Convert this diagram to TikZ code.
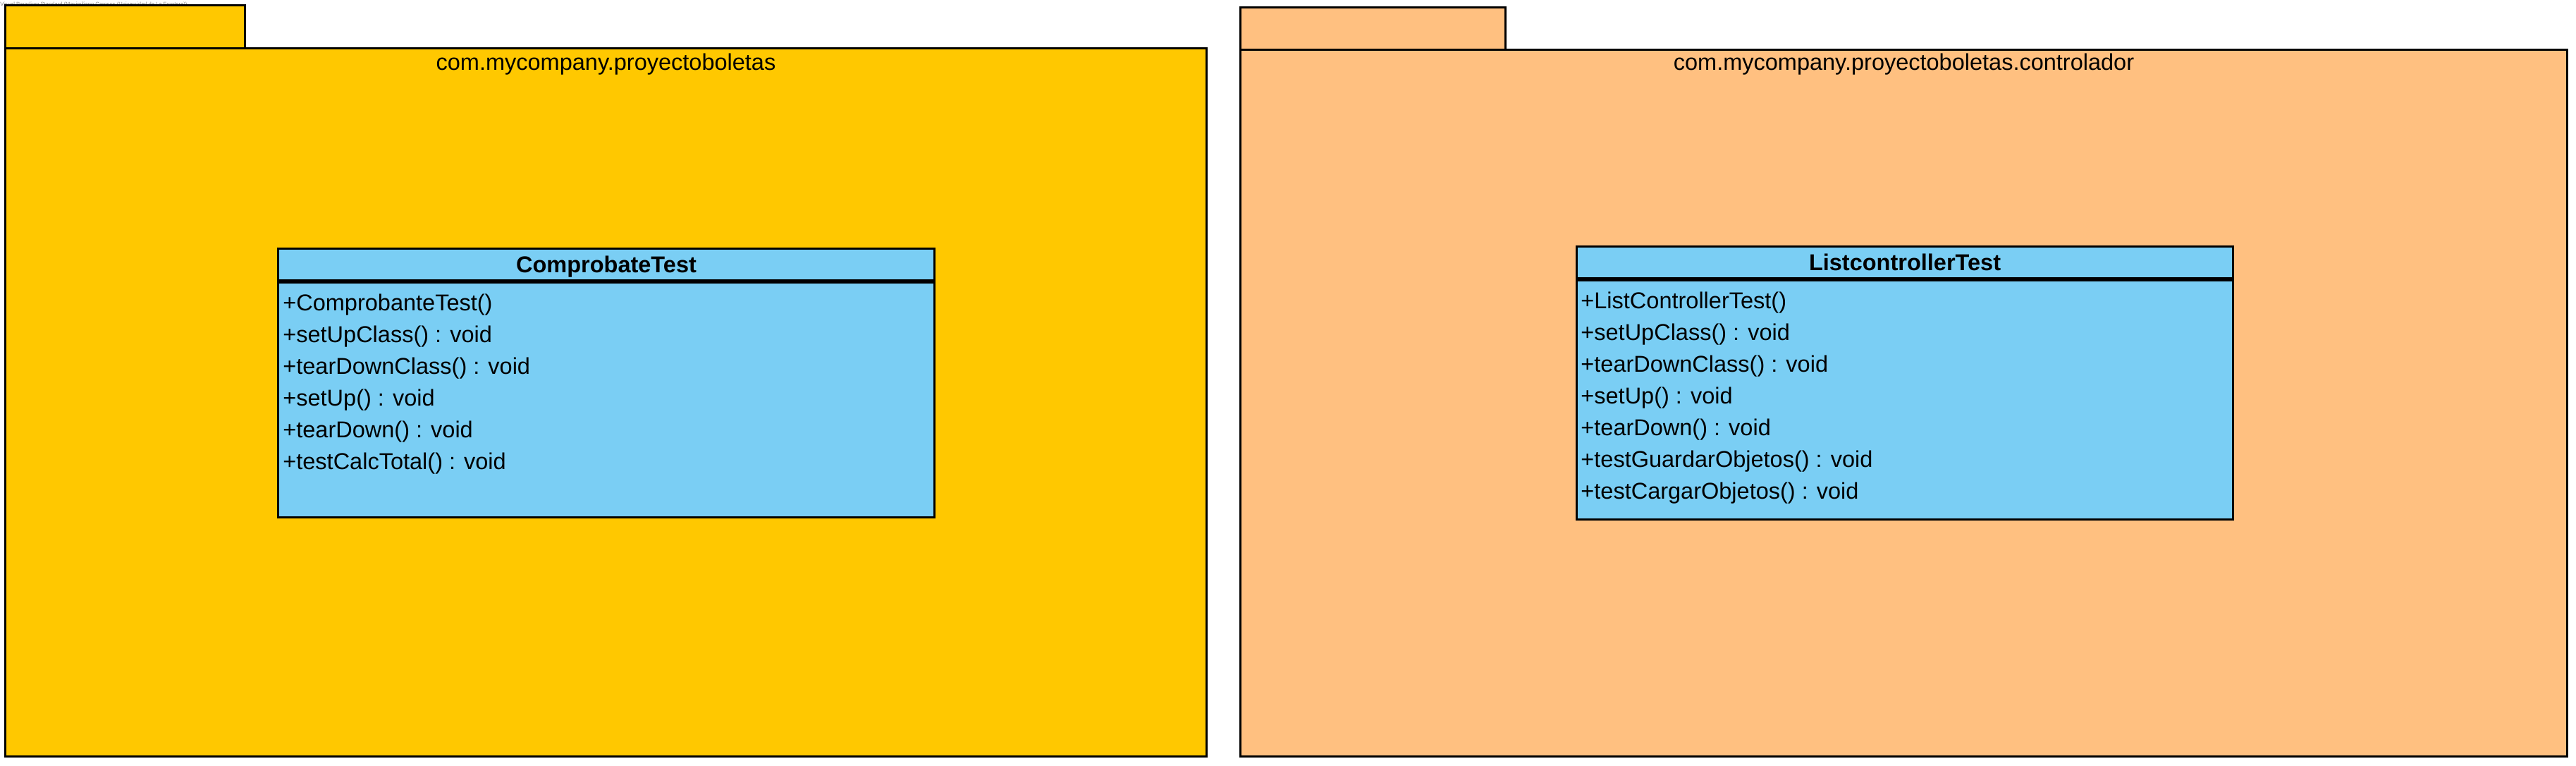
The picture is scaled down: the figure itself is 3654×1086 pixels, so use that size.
\documentclass[tikz,border=0pt]{standalone}
\usepackage{fontspec}
\setmainfont{Liberation Sans}
\usetikzlibrary{positioning}
\definecolor{pkgyellow}{RGB}{255,200,0}
\definecolor{pkgorange}{RGB}{255,192,128}
\definecolor{classblue}{RGB}{122,206,244}
\newcommand{\umlfont}{\fontsize{16.25pt}{22.5pt}\selectfont}

\begin{document}
\begin{tikzpicture}[x=0.5pt,y=-0.5pt,
	box/.style={draw,line width=1.5pt,inner sep=0pt,anchor=north west},
	pkgtitle/.style={anchor=base,inner sep=0pt,font=\umlfont},
	classhead/.style={box,fill=classblue,minimum width=465.5pt,
		minimum height=22.5pt,text height=17pt,text depth=5.5pt,
		font=\bfseries\umlfont},
	classbody/.style={box,fill=classblue,minimum width=465.5pt},
	member/.style={anchor=base west,inner sep=0pt,font=\umlfont}
	]
	
	\useasboundingbox (0,0) rectangle (3654,1086);
	
	\node[anchor=base west,inner sep=0pt,text=gray,
	font=\fontsize{3.8pt}{4pt}\selectfont] (wm) at (0,9)
	{Visual Paradigm Standard (Maximiliano Campos (Universidad de La Frontera))};
	
	% package com.mycompany.proyectoboletas
	\node[box,fill=pkgyellow,minimum width=170pt,minimum height=30.5pt] (tab1) at (6,6) {};
	\node[box,fill=pkgyellow,minimum width=852pt,minimum height=502pt] (pb1) at (6,67) {};
	\node[pkgtitle] (pt1) at ([yshift=-16.5pt]pb1.north) {com.mycompany.proyectoboletas};
	
	% package com.mycompany.proyectoboletas.controlador
	\node[box,fill=pkgorange,minimum width=188pt,minimum height=30pt] (tab2) at (1758,9) {};
	\node[box,fill=pkgorange,minimum width=941pt,minimum height=501pt] (pb2) at (1758,69) {};
	\node[pkgtitle] (pt2) at ([yshift=-15.5pt]pb2.north) {com.mycompany.proyectoboletas.controlador};
	
	% class ComprobateTest
	\node[classhead] (ch1) at (393,351) {ComprobateTest};
	\node[classbody,minimum height=166.5pt,below=0pt of ch1] (cb1) {};
	\foreach \m [count=\i from 0] in {+ComprobanteTest(),+setUpClass() : void,
		+tearDownClass() : void,+setUp() : void,+tearDown() : void,
		+testCalcTotal() : void}
	\node[member] (cm\i) at ([xshift=4pt,yshift={-20.5pt-\i*22.5pt}]cb1.north west) {\m};
	
	% class ListcontrollerTest
	\node[classhead] (ch2) at (2235,348) {ListcontrollerTest};
	\node[classbody,minimum height=169.5pt,below=0pt of ch2] (cb2) {};
	\foreach \m [count=\i from 0] in {+ListControllerTest(),+setUpClass() : void,
		+tearDownClass() : void,+setUp() : void,+tearDown() : void,
		+testGuardarObjetos() : void,+testCargarObjetos() : void}
	\node[member] (lm\i) at ([xshift=3.5pt,yshift={-20.5pt-\i*22.5pt}]cb2.north west) {\m};
	
\end{tikzpicture}
\end{document}
